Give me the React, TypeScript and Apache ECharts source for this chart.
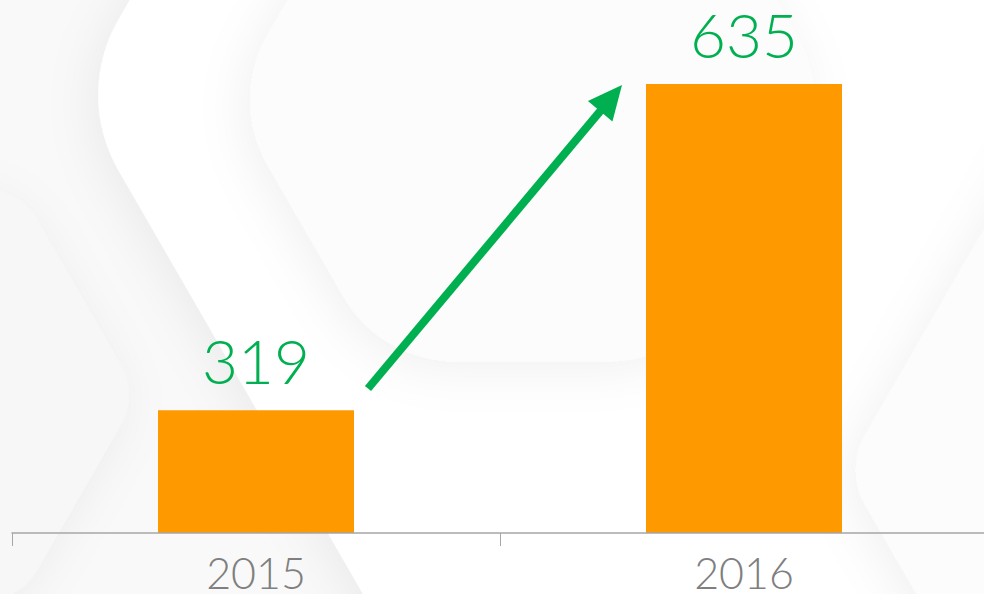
import React, { useEffect, useRef } from 'react';
import * as echarts from 'echarts';

const categories = ['2015', '2016'];
const values = [319, 635];
// value levels where the growth arrow starts and ends
const arrowLevels = [340, 634];

const W = 984;
const H = 594;

function hexPoints(cx: number, cy: number, R: number, r: number) {
  const Ri = R - r / 0.866;
  const h = Ri * 0.866;
  return [
    [cx - Ri, cy],
    [cx - Ri / 2, cy - h],
    [cx + Ri / 2, cy - h],
    [cx + Ri, cy],
    [cx + Ri / 2, cy + h],
    [cx - Ri / 2, cy + h],
  ];
}

function hex(cx: number, cy: number, R: number, r: number, fill: string, shadow: any) {
  return {
    type: 'polygon',
    z: -10,
    silent: true,
    shape: { points: hexPoints(cx, cy, R, r) },
    style: {
      fill,
      stroke: fill,
      lineWidth: r * 2,
      lineJoin: 'round',
      ...shadow,
    },
  };
}

export default function App() {
  const ref = useRef<HTMLDivElement>(null);
  useEffect(() => {
    document.body.style.margin = '0';
    const chart = echarts.init(ref.current!, null, { renderer: 'svg', width: W, height: H });
    const font = 'Lato, "Open Sans", sans-serif';
    const shadow = { shadowBlur: 50, shadowColor: 'rgba(0,0,0,0.06)', shadowOffsetX: -6, shadowOffsetY: 8 };
    const bg = [
      hex(-99, 395, 237, 60, '#f7f7f7', shadow),
      hex(775, 95, 700, 150, '#ffffff', shadow),
      hex(532, 100, 302, 130, '#fcfcfc', shadow),
      hex(1265, 470, 420, 70, '#fcfcfc', shadow),
    ];
    const option: any = {
      animation: false,
      backgroundColor: '#f9f9f9',
      grid: { left: 12, width: 976, top: 17, bottom: 61, containLabel: false, outerBoundsMode: 'none' },
      xAxis: {
        type: 'category',
        data: categories,
        axisLine: { show: true, lineStyle: { color: '#a6a6a6', width: 1.5 } },
        axisTick: { show: true, length: 13, lineStyle: { color: '#a6a6a6', width: 1 } },
        axisLabel: {
          color: '#7f7f7f',
          fontSize: 43,
          lineHeight: 34,
          fontFamily: font,
          fontWeight: 300,
          margin: 22,
        },
        z: 5,
      },
      yAxis: {
        type: 'value',
        min: 200,
        max: 700,
        show: false,
        splitLine: { show: false },
      },
      series: [
        {
          type: 'bar',
          data: values,
          barWidth: 196,
          itemStyle: { color: '#FF9900' },
          label: {
            show: true,
            position: 'top',
            distance: 26,
            color: '#00B050',
            fontSize: 62,
            lineHeight: 48,
            fontFamily: font,
            fontWeight: 300,
          },
        },
      ],
      graphic: bg,
    };
    chart.setOption(option);

    const c0 = chart.convertToPixel({ gridIndex: 0 }, [0, arrowLevels[0]]) as number[];
    const c1 = chart.convertToPixel({ gridIndex: 0 }, [1, arrowLevels[1]]) as number[];
    const half = 98;
    const tail = [c0[0] + half + 14, c0[1]];
    const tip = [c1[0] - half - 24, c1[1]];
    const dx = tip[0] - tail[0];
    const dy = tip[1] - tail[1];
    const len = Math.sqrt(dx * dx + dy * dy);
    const ux = dx / len;
    const uy = dy / len;
    const px = -uy;
    const py = ux;
    const headLen = 34;
    const headHalf = 16;
    const base = [tip[0] - ux * headLen, tip[1] - uy * headLen];
    const lineEnd = [tip[0] - ux * (headLen - 4), tip[1] - uy * (headLen - 4)];
    chart.setOption({
      graphic: [
        ...bg,
        {
          type: 'line',
          z: 100,
          silent: true,
          shape: { x1: tail[0], y1: tail[1], x2: lineEnd[0], y2: lineEnd[1] },
          style: { stroke: '#00B050', lineWidth: 8, lineCap: 'butt' },
        },
        {
          type: 'polygon',
          z: 100,
          silent: true,
          shape: {
            points: [
              [tip[0], tip[1]],
              [base[0] + px * headHalf, base[1] + py * headHalf],
              [base[0] - px * headHalf, base[1] - py * headHalf],
            ],
          },
          style: { fill: '#00B050' },
        },
      ],
    });
    return () => chart.dispose();
  }, []);
  return <div ref={ref} style={{ width: W, height: H }} />;
}
